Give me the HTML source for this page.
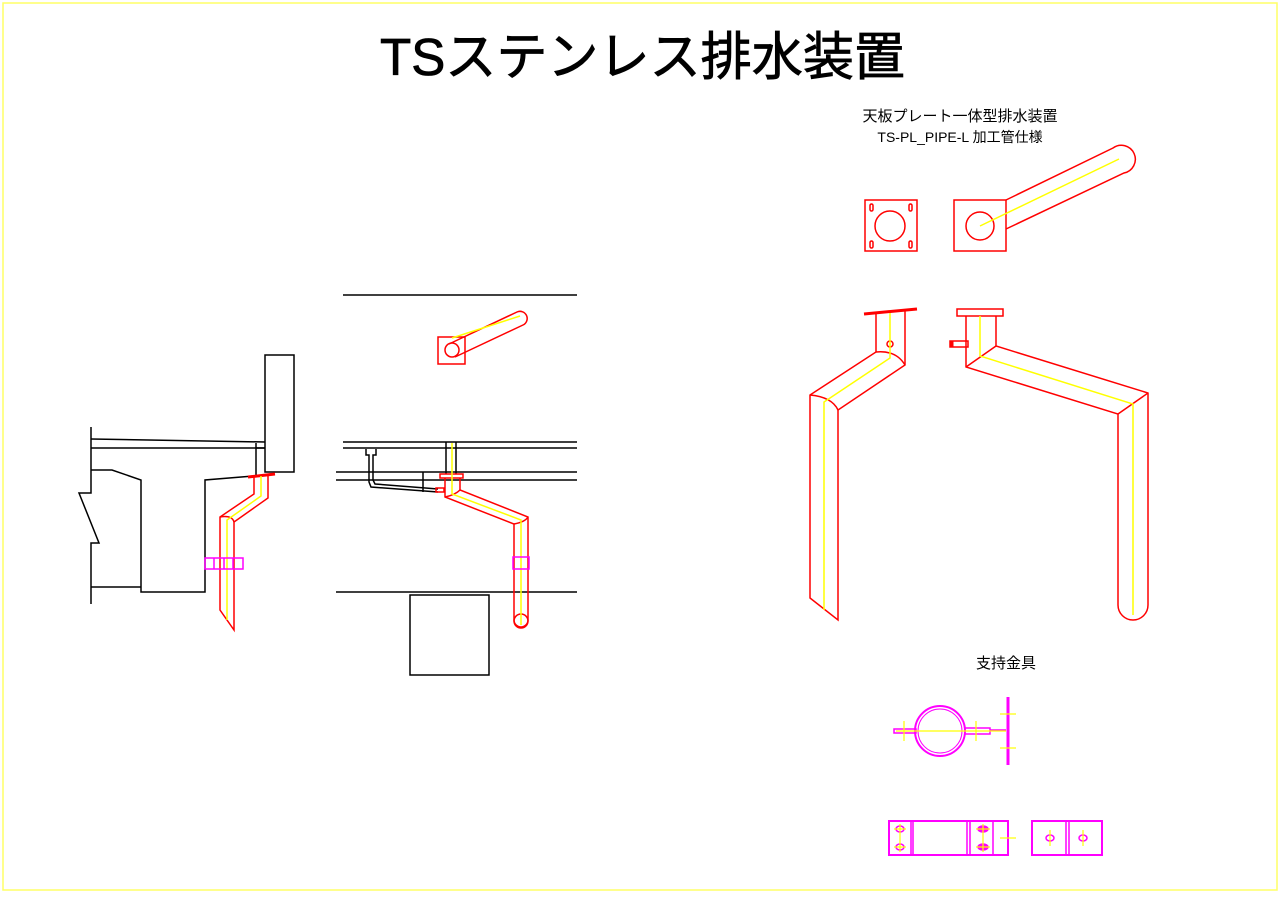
<!DOCTYPE html>
<html><head><meta charset="utf-8"><style>
html,body{margin:0;padding:0;background:#fff;width:1280px;height:905px;overflow:hidden}
svg{display:block}
text{font-family:"Liberation Sans","Noto Sans CJK JP",sans-serif}
</style></head><body>
<svg width="1280" height="905" viewBox="0 0 1280 905" xmlns="http://www.w3.org/2000/svg" fill="none" stroke-width="1.5">
<rect x="3" y="3" width="1274" height="887" stroke="#ffff66" stroke-width="1.5"/>
<text x="380" y="75" font-size="52" fill="#000" stroke="#000" stroke-width="0.8" textLength="525" lengthAdjust="spacingAndGlyphs">TSステンレス排水装置</text>
<text x="960" y="121" font-size="15" fill="#000" stroke="none" text-anchor="middle">天板プレート一体型排水装置</text>
<text x="960" y="142" font-size="14" fill="#000" stroke="none" text-anchor="middle">TS-PL_PIPE-L 加工管仕様</text>
<text x="1006" y="668" font-size="15" fill="#000" stroke="none" text-anchor="middle">支持金具</text>

<!-- LEFT section (black) -->
<g stroke="#000">
<polyline points="91,427 91,493 79,493 99,543 91,543 91,604"/>
<line x1="91" y1="439" x2="265" y2="442"/>
<line x1="91" y1="448" x2="265" y2="448"/>
<polyline points="91,470 112,470 141,480 141,592 205,592 205,480 265,475"/>
<line x1="91" y1="587" x2="141" y2="587"/>
<rect x="265" y="355" width="29" height="117"/>
<line x1="256" y1="443" x2="256" y2="475"/>
<line x1="256" y1="448" x2="265" y2="448"/>
</g>
<g stroke="#f00">
<line x1="248" y1="477" x2="275" y2="474" stroke-width="3"/>
<polyline points="254,476 254,494 220,517 220,610 234,630 234,522 268,498 268,475"/>
<path d="M220,517 Q232,515 234,522"/>
</g>
<polyline points="261,476 261,496 227,520 227,620" stroke="#ff0"/>
<g stroke="#f0f"><rect x="205" y="558" width="38" height="11"/><line x1="214" y1="558" x2="214" y2="569"/><line x1="224" y1="558" x2="224" y2="569"/><line x1="233" y1="558" x2="233" y2="569"/></g>

<!-- MIDDLE -->
<g stroke="#000">
<line x1="343" y1="295" x2="577" y2="295"/>
<line x1="343" y1="442" x2="577" y2="442"/>
<line x1="343" y1="448" x2="577" y2="448"/>
<line x1="336" y1="472" x2="577" y2="472"/>
<line x1="336" y1="480" x2="577" y2="480"/>
<line x1="336" y1="592" x2="577" y2="592"/>
<rect x="410" y="595" width="79" height="80"/>
<polyline points="366,449 366,455 369,455 369,482 371,487 438,492"/>
<polyline points="376,449 376,455 373,455 373,480 375,484 438,489"/>
<line x1="423" y1="472" x2="423" y2="492"/>
<line x1="446" y1="442" x2="446" y2="474"/><line x1="456" y1="442" x2="456" y2="474"/>
</g>
<g stroke="#f00">
<rect x="438" y="337" width="27" height="27"/>
<circle cx="452" cy="350" r="7"/>
<path d="M449,344 L517,312 A7,7 0 1 1 523,325 L455,357"/>
<rect x="440" y="474" width="23" height="4"/>
<rect x="436" y="488" width="8" height="4"/>
<path d="M445,478 L445,497 L514,524 L514,620 A7,7 0 0 0 528,620 L528,517 L460,490 L460,478"/>
<path d="M445,497 Q455,495 460,490"/>
<path d="M514,524 Q525,522 528,517"/>
<circle cx="521" cy="621" r="7"/>
</g>
<polyline points="452,338 520,316" stroke="#ff0"/>
<polyline points="452,443 452,494 521,520 521,625" stroke="#ff0"/>
<rect x="513" y="557" width="16" height="12" stroke="#f0f"/>

<!-- RIGHT TOP plates -->
<g stroke="#f00">
<rect x="865" y="200" width="52" height="51"/>
<circle cx="890" cy="226" r="15"/>
<rect x="870" y="204" width="3" height="7" rx="1.5"/><rect x="909" y="204" width="3" height="7" rx="1.5"/>
<rect x="870" y="241" width="3" height="7" rx="1.5"/><rect x="909" y="241" width="3" height="7" rx="1.5"/>
<rect x="954" y="200" width="52" height="51"/>
<circle cx="980" cy="226" r="14"/>
<path d="M1006,200 L1113,148 A14,14 0 1 1 1124,173 L1006,229"/>
</g>
<line x1="980" y1="226" x2="1119" y2="159" stroke="#ff0"/>

<!-- RIGHT pipes -->
<g stroke="#f00">
<line x1="864" y1="314" x2="917" y2="309" stroke-width="3"/>
<polyline points="876,313 876,352 810,395 810,598 838,620 838,410 905,365 905,311"/>
<path d="M876,352 Q896,350 905,365"/>
<path d="M810,395 Q832,397 838,410"/>
<circle cx="890" cy="344" r="3"/>
<rect x="957" y="309" width="46" height="7"/>
<path d="M966,316 L966,367 L1118,414 L1118,605 A15,15 0 0 0 1148,605 L1148,393 L996,346 L996,316"/>
<line x1="966" y1="367" x2="996" y2="346"/>
<line x1="1118" y1="414" x2="1148" y2="393"/>
<rect x="950" y="341" width="18" height="6"/>
<line x1="952" y1="341" x2="952" y2="347" stroke-width="3"/>
</g>
<g stroke="#ff0">
<polyline points="890,313 890,358 824,402 824,610"/>
<polyline points="980,316 980,356 1133,404 1133,615"/>
</g>

<!-- Bracket -->
<g stroke="#f0f" stroke-width="2">
<circle cx="940" cy="731" r="25"/>
<circle cx="940" cy="731" r="22" stroke-width="1"/>
<rect x="894" y="729" width="22" height="4" stroke-width="1.5"/>
<path d="M964,728 L990,728 L990,734 L964,734" stroke-width="1.5"/>
<line x1="990" y1="730" x2="1006" y2="730" stroke-width="1.5"/>
<line x1="1008" y1="697" x2="1008" y2="765" stroke-width="3"/>
</g>
<g stroke="#ff0" stroke-width="1.2">
<line x1="896" y1="731" x2="1006" y2="731"/>
<line x1="904" y1="721" x2="904" y2="741"/>
<line x1="976" y1="721" x2="976" y2="741"/>
<line x1="1000" y1="714" x2="1016" y2="714"/>
<line x1="1000" y1="748" x2="1016" y2="748"/>
</g>
<g stroke="#f0f">
<rect x="889" y="821" width="119" height="34" stroke-width="2"/>
<line x1="911" y1="821" x2="911" y2="855"/><line x1="913" y1="821" x2="913" y2="855"/>
<line x1="967" y1="821" x2="967" y2="855"/><line x1="970" y1="821" x2="970" y2="855"/>
<line x1="993" y1="821" x2="993" y2="855"/>
<rect x="1032" y="821" width="70" height="34" stroke-width="2"/>
<line x1="1066" y1="821" x2="1066" y2="855"/><line x1="1069" y1="821" x2="1069" y2="855"/>
<ellipse cx="900" cy="829" rx="4" ry="3"/><ellipse cx="900" cy="847" rx="4" ry="3"/>
<ellipse cx="983" cy="829" rx="5" ry="3" fill="#f0f"/><ellipse cx="983" cy="847" rx="5" ry="3" fill="#f0f"/>
<ellipse cx="1050" cy="838" rx="4" ry="3"/><ellipse cx="1083" cy="838" rx="4" ry="3"/>
</g>
<g stroke="#ff0" stroke-width="1.2">
<line x1="900" y1="824" x2="900" y2="852"/><line x1="894" y1="829" x2="906" y2="829"/><line x1="894" y1="847" x2="906" y2="847"/>
<line x1="983" y1="824" x2="983" y2="852"/><line x1="976" y1="829" x2="990" y2="829"/><line x1="976" y1="847" x2="990" y2="847"/>
<line x1="1000" y1="838" x2="1016" y2="838"/>
<line x1="1050" y1="830" x2="1050" y2="846"/><line x1="1083" y1="830" x2="1083" y2="846"/>
</g>
</svg>
</body></html>
